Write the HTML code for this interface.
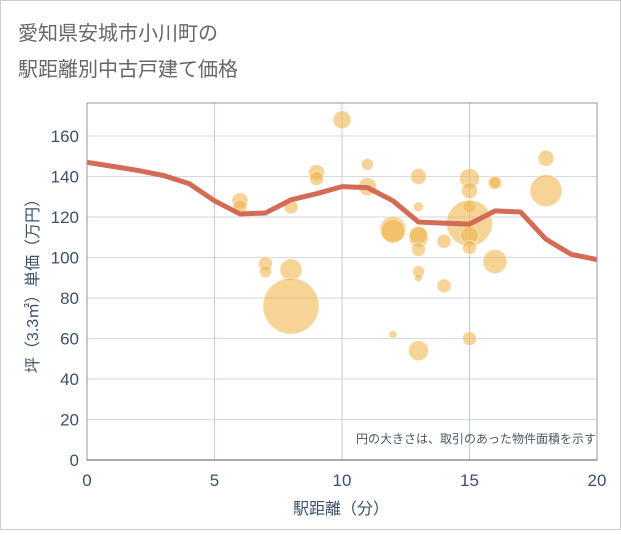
<!DOCTYPE html>
<html><head><meta charset="utf-8"><style>
body{margin:0;background:#fff;font-family:"Liberation Sans","Noto Sans CJK JP",sans-serif;}
svg text{font-family:"Liberation Sans","Noto Sans CJK JP",sans-serif;}
</style></head><body>
<svg id="c" width="621" height="530">
<rect x="0.5" y="0.5" width="620" height="529" fill="#fff" stroke="#ccc"/>
<text x="18" y="40" font-size="20" fill="#666">愛知県安城市小川町の</text>
<text x="18" y="76" font-size="20" fill="#666">駅距離別中古戸建て価格</text>
<g id="grid"></g>
<g id="bubbles"></g>
<g id="line"></g>
<g id="axes"></g>
<text x="596" y="443" font-size="12" fill="#4a5866" text-anchor="end">円の大きさは、取引のあった物件面積を示す</text>
<text x="341" y="514" font-size="16" fill="#3d5068" text-anchor="middle">駅距離（分）</text>
<text transform="translate(38,282) rotate(-90)" font-size="16" fill="#3d5068" text-anchor="middle">坪（3.3㎡）単価（万円）</text>
</svg>
<script>
const xTicks=[0,5,10,15,20];
const yTicks=[0,20,40,60,80,100,120,140,160];
const bubbleX=[6,6,7,7,8,8,8,9,9,10,11,11,12,12,12,13,13,13,13,13,13,13,13,14,14,15,15,15,15,15,15,15,16,16,16,18,18];
const bubbleY=[128,125,97,93,94,76,125,142,139,168,146,135,114,113,62,140,125,110,111,104,93,90,54,108,86,139,133,125,117,111,105,60,137,137,98,149,133];
const bubbleR=[8,7,7,6,11,28,7,8,7,9,6,9,13,12,4,8,5,10,9,7,6,4,10,7,7,10,8,6,23,9,7,7,7,6,12,8,16];
const lineX=[0,1,2,3,4,5,6,7,8,9,10,11,12,13,14,15,16,17,18,19,20];
const lineY=[147,145,143,140.5,136.5,128,121.5,122,128.5,131.5,135,134.5,128,117.5,117,116.5,123,122.5,109,101.5,99];
const L=87,R=597,T=103,B=460;
const sx=v=>L+(v-0)/20*(R-L);
const sy=v=>B-v/160*(B-136);
const NS='http://www.w3.org/2000/svg';
function mk(p,t,a){const e=document.createElementNS(NS,t);for(const k in a)e.setAttribute(k,a[k]);p.appendChild(e);return e;}
const g=document.getElementById('grid');
yTicks.forEach(v=>{const l=mk(g,'line',{x1:L,x2:R,y1:sy(v),y2:sy(v),stroke:'#d0dae6','stroke-width':1});

});
xTicks.forEach(v=>{const l=mk(g,'line',{x1:sx(v),x2:sx(v),y1:T,y2:B,stroke:'#bccde0','stroke-width':1});

});
const bg=document.getElementById('bubbles');
bubbleX.forEach((v,i)=>{const c=mk(bg,'circle',{cx:sx(v),cy:sy(bubbleY[i]),r:bubbleR[i],fill:'#f0b550','fill-opacity':0.6,stroke:'#fff','stroke-opacity':0.5,'stroke-width':1});

});
const lg=document.getElementById('line');
const p=mk(lg,'polyline',{points:lineX.map((v,i)=>sx(v)+','+sy(lineY[i])).join(' '),fill:'none',stroke:'#d36b55','stroke-width':5,'stroke-linejoin':'round'});


const ax=document.getElementById('axes');
mk(ax,'rect',{x:L,y:T,width:R-L,height:B-T,fill:'none',stroke:'#999','stroke-width':1});
mk(ax,'line',{x1:L,x2:R,y1:B,y2:B,stroke:'#555','stroke-width':1});
yTicks.forEach(v=>{const t=mk(ax,'text',{x:L-8,y:sy(v)+6,'font-size':17,fill:'#3d5068','text-anchor':'end'});t.textContent=v;

});
xTicks.forEach(v=>{const t=mk(ax,'text',{x:sx(v),y:B+26,'font-size':17,fill:'#3d5068','text-anchor':'middle'});t.textContent=v;

});
</script>
</body></html>
